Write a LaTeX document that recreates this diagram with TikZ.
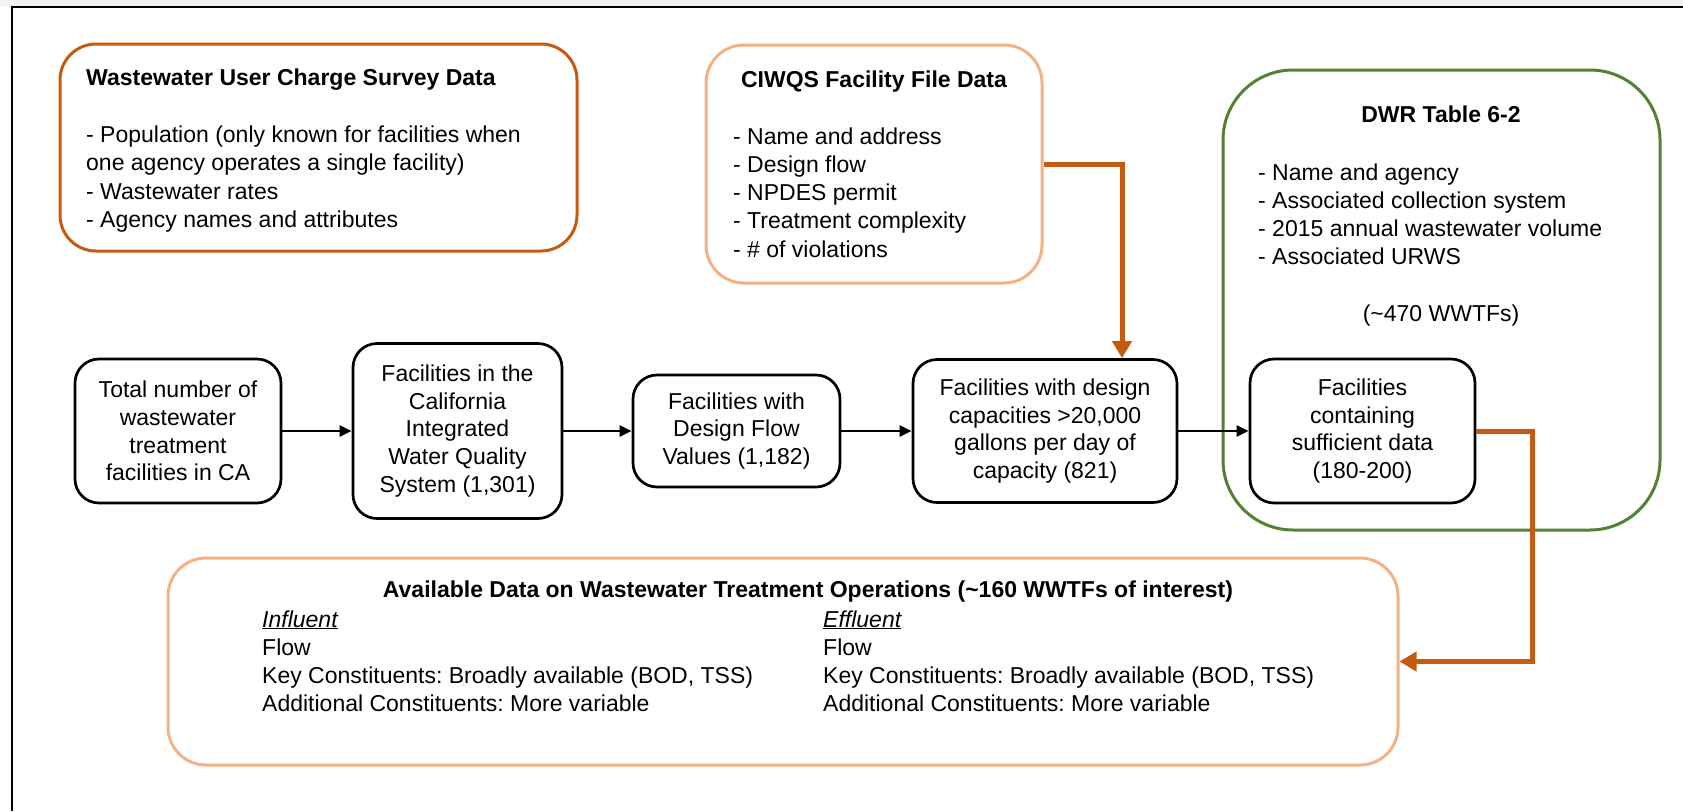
\documentclass[tikz,border=0pt]{standalone}
\usepackage{fontspec}
\setmainfont{Liberation Sans}
\usetikzlibrary{arrows.meta}
\definecolor{rust}{HTML}{C55A11}
\definecolor{peach}{HTML}{F4B183}
\definecolor{leaf}{HTML}{548235}
\frenchspacing

\begin{document}
\begin{tikzpicture}[x=1pt,y=-1pt,
  txt/.style={inner sep=0pt, font=\fontsize{23}{28}\selectfont},
  head/.style={inner sep=0pt, font=\fontsize{23}{28}\selectfont\bfseries},
  panel/.style={line width=3pt, inner sep=0pt},
  flowbox/.style={draw=black, line width=2.7pt, rounded corners=24pt,
    align=center, inner sep=0pt, font=\fontsize{23}{27.8}\selectfont},
  flowarrow/.style={line width=2.6pt, -{Triangle[length=12pt,width=11pt]}},
  feed/.style={draw=rust, line width=5pt, -{Triangle[length=17pt,width=19pt]}}
]
\useasboundingbox (0,0) rectangle (1683,811);

% page edge of the clipped frame
\fill[gray!10] (0,0) rectangle (1683,6);
\draw[line width=2pt] (1683,7) -- (12,7) -- (12,811);

% source data panels
\node[panel, draw=rust, rounded corners=36pt, minimum width=517pt, minimum height=207pt]
  (survey) at (318.5,147.5) {};
\node[panel, draw=peach, rounded corners=38pt, minimum width=336pt, minimum height=238pt]
  (ciwqs) at (874,164) {};
\node[panel, draw=leaf, rounded corners=70pt, minimum width=437pt, minimum height=460pt]
  (dwr) at (1441.5,300) {};
\node[panel, draw=peach, rounded corners=38pt, minimum width=1230pt, minimum height=207pt]
  (summary) at (783,661.5) {};

% survey panel text
\node[head, anchor=base west] (survey-title) at (86,85) {Wastewater User Charge Survey Data};
\foreach \t [count=\i from 0] in {{- Population (only known for facilities when},
    {one agency operates a single facility)},{- Wastewater rates},
    {- Agency names and attributes}}
  \node[txt, anchor=base west] (survey-l\i) at (86,{142+28.5*\i}) {\t};

% CIWQS panel text
\node[head, anchor=base] (ciwqs-title) at (874,87) {CIWQS Facility File Data};
\foreach \t [count=\i from 0] in {{- Name and address},{- Design flow},{- NPDES permit},
    {- Treatment complexity},{- \# of violations}}
  \node[txt, anchor=base west] (ciwqs-l\i) at (733,{144+28.3*\i}) {\t};

% DWR panel text
\node[head, anchor=base] (dwr-title) at (1441,122) {DWR Table 6-2};
\foreach \t [count=\i from 0] in {{- Name and agency},{- Associated collection system},
    {- 2015 annual wastewater volume},{- Associated URWS}}
  \node[txt, anchor=base west] (dwr-l\i) at (1258,{180+28*\i}) {\t};
\node[txt, anchor=base] (dwr-count) at (1441,321) {(\textasciitilde470 WWTFs)};

% screening steps
\node[flowbox, minimum width=206pt, minimum height=144pt] (n1) at (178,431)
  {Total number of\\wastewater\\treatment\\facilities in CA};
\node[flowbox, minimum width=209pt, minimum height=175pt] (n2) at (457.5,431)
  {Facilities in the\\California\\Integrated\\Water Quality\\System (1,301)};
\node[flowbox, minimum width=207pt, minimum height=112pt] (n3) at (736.5,431)
  {Facilities with\\Design Flow\\Values (1,182)};
\node[flowbox, minimum width=264pt, minimum height=143pt] (n4) at (1045,431)
  {Facilities with design\\capacities >20,000\\gallons per day of\\capacity (821)};
\node[flowbox, minimum width=225pt, minimum height=144pt] (n5) at (1362.5,431)
  {Facilities\\containing\\sufficient data\\(180-200)};

\draw[flowarrow] (n1) -- (n2);
\draw[flowarrow] (n2) -- (n3);
\draw[flowarrow] (n3) -- (n4);
\draw[flowarrow] (n4) -- (n5);

% summary panel text
\node[head, anchor=base] (summary-title) at (808,597)
  {Available Data on Wastewater Treatment Operations (\textasciitilde160 WWTFs of interest)};
\node[txt, anchor=base west] (summary-in-0) at (262,627) {\underline{\itshape Influent}};
\node[txt, anchor=base west] (summary-out-0) at (823,627) {\underline{\itshape Effluent}};
\foreach \side/\x in {in/262, out/823} {
  \foreach \t [count=\i from 1] in {{Flow},{Key Constituents: Broadly available (BOD, TSS)},
      {Additional Constituents: More variable}}
    \node[txt, anchor=base west] (summary-\side-\i) at (\x,{627+28*\i}) {\t};
}

% data feeds
\draw[feed] (ciwqs.east) -| ([xshift=77pt]n4.north);
\draw[feed] (n5.east) -- ++(56,0) |- (summary.east);
\end{tikzpicture}
\end{document}
